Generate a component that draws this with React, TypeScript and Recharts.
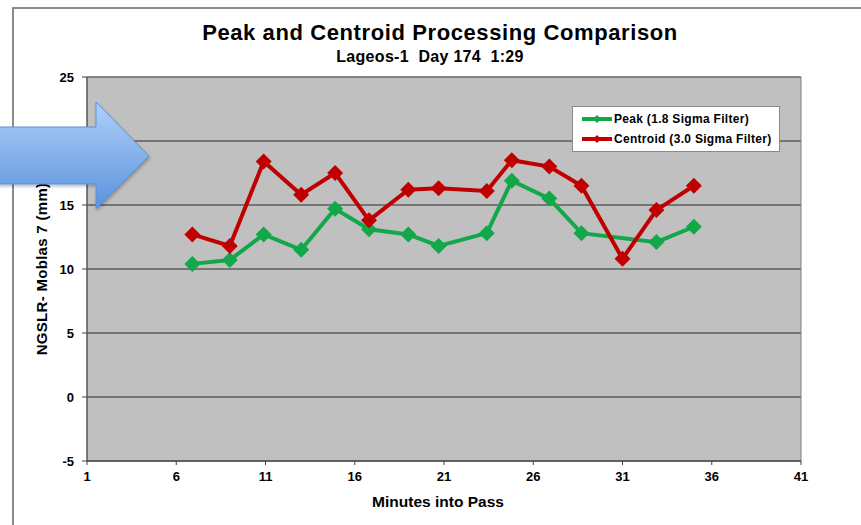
import { LineChart, Line, XAxis, YAxis, CartesianGrid, Legend, ReferenceArea } from 'recharts';

const peakMinutes = [6.9, 9, 10.9, 13, 14.9, 16.8, 19, 20.7, 23.4, 24.8, 26.9, 28.7, 32.9, 35];
const peakValues = [10.4, 10.7, 12.7, 11.5, 14.7, 13.1, 12.7, 11.8, 12.8, 16.9, 15.5, 12.8, 12.1, 13.3];
const centroidMinutes = [6.9, 9, 10.9, 13, 14.9, 16.8, 19, 20.7, 23.4, 24.8, 26.9, 28.7, 31, 32.9, 35];
const centroidValues = [12.7, 11.8, 18.4, 15.8, 17.5, 13.8, 16.2, 16.3, 16.1, 18.5, 18.0, 16.5, 10.8, 14.6, 16.5];
const seriesNames = ['Peak (1.8 Sigma Filter)', 'Centroid (3.0 Sigma Filter)'];
const xTicks = [1, 6, 11, 16, 21, 26, 31, 36, 41];
const yTicks = [-5, 0, 5, 10, 15, 20, 25];

const GREEN = '#12a84a';
const RED = '#c00000';
const FONT = '"Liberation Sans", Arial, sans-serif';

const peakData = peakMinutes.map((m, i) => ({ minute: m, value: peakValues[i] }));
const centroidData = centroidMinutes.map((m, i) => ({ minute: m, value: centroidValues[i] }));

const diamond = (color: string, r: number) => (props: any) => {
  const { cx, cy, index } = props;
  if (cx == null || cy == null) return <g key={index} />;
  return (
    <polygon
      key={index}
      points={`${cx},${cy - r} ${cx + r},${cy} ${cx},${cy + r} ${cx - r},${cy}`}
      fill={color}
    />
  );
};

function LegendBox({ payload }: any) {
  const items = [...(payload || [])].sort(
    (a: any, b: any) => seriesNames.indexOf(a.value) - seriesNames.indexOf(b.value)
  );
  return (
    <div
      style={{
        background: '#fff',
        border: '1px solid #8a8a8a',
        padding: '2px 8px 2px 9px',
        fontFamily: FONT,
        fontSize: 12,
        fontWeight: 'bold',
        letterSpacing: 0.3,
        color: '#000',
      }}
    >
      {items.map((p: any) => (
        <div key={p.value} style={{ display: 'flex', alignItems: 'center', height: 20 }}>
          <svg width={30} height={10} style={{ marginRight: 2 }}>
            <line x1={0} y1={5} x2={30} y2={5} stroke={p.color} strokeWidth={4} />
            <polygon points="15,1 19,5 15,9 11,5" fill={p.color} />
          </svg>
          <span>{p.value}</span>
        </div>
      ))}
    </div>
  );
}

export default function App() {
  return (
    <div style={{ position: 'absolute', left: 0, top: 0, width: 861, height: 525, background: '#fff', overflow: 'hidden' }}>
      <div
        style={{
          position: 'absolute',
          left: 12,
          top: 7,
          width: 860,
          height: 530,
          borderTop: '2px solid #8c8c8c',
          borderLeft: '2px solid #8c8c8c',
        }}
      />
      <div
        style={{
          position: 'absolute',
          left: 0,
          width: 880,
          top: 20,
          lineHeight: '26px',
          textAlign: 'center',
          fontFamily: FONT,
          fontWeight: 'bold',
          fontSize: 22,
          letterSpacing: 0.6,
          color: '#000',
        }}
      >
        Peak and Centroid Processing Comparison
      </div>
      <div
        style={{
          position: 'absolute',
          left: 0,
          width: 860,
          top: 48,
          lineHeight: '18px',
          textAlign: 'center',
          fontFamily: FONT,
          fontWeight: 'bold',
          fontSize: 16,
          letterSpacing: 0.3,
          color: '#000',
          whiteSpace: 'pre',
        }}
      >
        {'Lageos-1  Day 174  1:29'}
      </div>
      <LineChart
        width={861}
        height={525}
        margin={{ top: 77, right: 60, bottom: 0, left: 12 }}
        style={{ position: 'absolute', left: 0, top: 0 }}
      >
        <CartesianGrid fill="#c0c0c0" stroke="#2a2a2a" vertical={false} />
        <ReferenceArea x1={1} x2={41} y1={-5} y2={25} fill="none" stroke="#808080" strokeWidth={1} />
        <XAxis
          type="number"
          dataKey="minute"
          domain={[1, 41]}
          ticks={xTicks}
          allowDataOverflow
          height={64}
          tickSize={4}
          tickMargin={7}
          stroke="#404040"
          tick={{ fill: '#000', fontFamily: FONT, fontSize: 13, fontWeight: 'bold' }}
          label={{
            value: 'Minutes into Pass',
            position: 'insideBottom',
            offset: 18,
            dx: -6,
            style: { fill: '#000', fontFamily: FONT, fontSize: 15.5, fontWeight: 'bold' },
          }}
        />
        <YAxis
          type="number"
          domain={[-5, 25]}
          ticks={yTicks}
          width={75}
          tickSize={5}
          tickMargin={8}
          stroke="#404040"
          tick={{ fill: '#000', fontFamily: FONT, fontSize: 13, fontWeight: 'bold' }}
          label={{
            value: 'NGSLR- Moblas 7 (mm)',
            angle: -90,
            position: 'center',
            dx: -8,
            dy: 0,
            style: { fill: '#000', fontFamily: FONT, fontSize: 15, fontWeight: 'bold', letterSpacing: 0.3, textAnchor: 'middle' },
          }}
        />
        <Legend
          layout="vertical"
          align="center"
          verticalAlign="middle"
          wrapperStyle={{ left: 572, top: 106, width: 'auto' }}
          content={<LegendBox />}
        />
        <Line
          data={peakData}
          dataKey="value"
          name={seriesNames[0]}
          type="linear"
          stroke={GREEN}
          strokeWidth={4}
          dot={diamond(GREEN, 8)}
          activeDot={false}
          isAnimationActive={false}
        />
        <Line
          data={centroidData}
          dataKey="value"
          name={seriesNames[1]}
          type="linear"
          stroke={RED}
          strokeWidth={4}
          dot={diamond(RED, 8)}
          activeDot={false}
          isAnimationActive={false}
        />
      </LineChart>
      <svg width={170} height={230} style={{ position: 'absolute', left: 0, top: 0, pointerEvents: 'none' }}>
        <defs>
          <linearGradient id="arrowFill" x1="0" y1="0" x2="0" y2="1">
            <stop offset="0%" stopColor="#b0d0fa" />
            <stop offset="100%" stopColor="#5a92dd" />
          </linearGradient>
          <filter id="arrowShadow" x="-10%" y="-10%" width="130%" height="130%">
            <feDropShadow dx="1" dy="2" stdDeviation="1.5" floodColor="#000" floodOpacity="0.25" />
          </filter>
        </defs>
        <polygon
          points="-3,127 96,127 96,102 149,156 96,209 96,184 -3,184"
          fill="url(#arrowFill)"
          stroke="#5f90d2"
          strokeWidth={1}
          filter="url(#arrowShadow)"
        />
      </svg>
    </div>
  );
}
